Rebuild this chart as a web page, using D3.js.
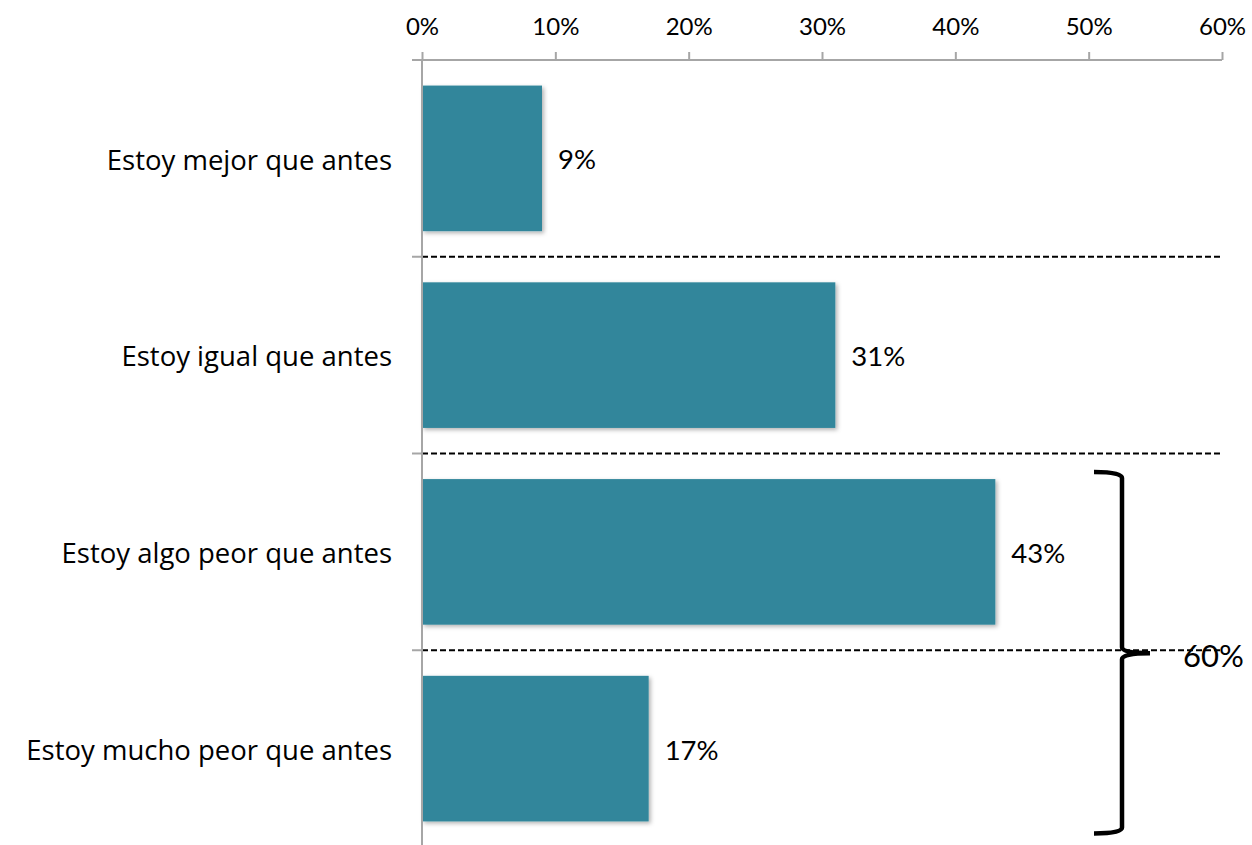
<!DOCTYPE html>
<html>
<head>
<meta charset="utf-8">
<script src="https://cdn.jsdelivr.net/npm/d3@7"></script>
<style>
  html, body { margin: 0; padding: 0; background: #fff; }
  svg { display: block; font-family: Lato, "Open Sans", sans-serif; }
</style>
</head>
<body>
<div id="chart"></div>
<script>
const categories = [
  'Estoy mejor que antes',
  'Estoy igual que antes',
  'Estoy algo peor que antes',
  'Estoy mucho peor que antes'
];
const values = [0.09, 0.31, 0.43, 0.17];
const xTicks = [0, 0.1, 0.2, 0.3, 0.4, 0.5, 0.6];
const bracketCats = ['Estoy algo peor que antes', 'Estoy mucho peor que antes'];

const width = 1252, height = 845;
const plot = { left: 422, right: 1222, top: 60, bottom: 847 };

const svg = d3.select('#chart').append('svg')
  .attr('width', width)
  .attr('height', height);

// bar shadow
const defs = svg.append('defs');
defs.append('filter')
  .attr('id', 'shadow')
  .attr('x', '-5%').attr('y', '-10%').attr('width', '110%').attr('height', '130%')
  .append('feDropShadow')
  .attr('dx', 2).attr('dy', 2).attr('stdDeviation', 2)
  .attr('flood-color', '#000').attr('flood-opacity', 0.3);

const x = d3.scaleLinear().domain([0, 0.6]).range([plot.left, plot.right]);
const y = d3.scaleBand()
  .domain(categories)
  .range([plot.top, plot.bottom])
  .paddingInner(0.26)
  .paddingOuter(0.13);

const axisColor = '#a6a6a6';

// dashed separators between categories
const bounds = d3.range(1, categories.length).map(i => plot.top + i * y.step());
svg.append('g').selectAll('line')
  .data(bounds)
  .join('line')
  .attr('x1', plot.left).attr('x2', plot.right)
  .attr('y1', d => d).attr('y2', d => d)
  .attr('stroke', '#000')
  .attr('stroke-width', 2)
  .attr('stroke-dasharray', '6,3');

// bars
svg.append('g').selectAll('rect')
  .data(values)
  .join('rect')
  .attr('x', x(0))
  .attr('y', (d, i) => y(categories[i]))
  .attr('width', d => x(d) - x(0))
  .attr('height', y.bandwidth())
  .attr('fill', '#31869b')
  .attr('filter', 'url(#shadow)');

// top axis
svg.append('g')
  .attr('transform', `translate(0,${plot.top})`)
  .call(d3.axisTop(x).tickValues(xTicks).tickFormat(d3.format('.0%')).tickSize(8).tickSizeOuter(0).tickPadding(17))
  .call(g => g.select('.domain').remove())
  .call(g => g.selectAll('.tick line').attr('stroke', axisColor).attr('stroke-width', 2))
  .call(g => g.selectAll('.tick text').attr('fill', '#000').style('font-size', '24px').style('font-family', 'Lato, sans-serif'));
svg.append('line')
  .attr('x1', plot.left - 10).attr('x2', plot.right)
  .attr('y1', plot.top).attr('y2', plot.top)
  .attr('stroke', axisColor).attr('stroke-width', 2);

// left axis with ticks at category boundaries
svg.append('line')
  .attr('x1', plot.left).attr('x2', plot.left)
  .attr('y1', plot.top).attr('y2', plot.bottom)
  .attr('stroke', axisColor).attr('stroke-width', 2);
svg.append('g').selectAll('line')
  .data(bounds.concat([plot.bottom]))
  .join('line')
  .attr('x1', plot.left - 10).attr('x2', plot.left)
  .attr('y1', d => d).attr('y2', d => d)
  .attr('stroke', axisColor).attr('stroke-width', 2);

// category labels
svg.append('g').selectAll('text')
  .data(categories)
  .join('text')
  .attr('x', plot.left - 30)
  .attr('y', d => y(d) + y.bandwidth() / 2 + 4)
  .attr('text-anchor', 'end')
  .attr('dominant-baseline', 'middle')
  .style('font-family', '"Open Sans", sans-serif')
  .style('font-size', '27.5px')
  .text(d => d);

// value labels
svg.append('g').selectAll('text')
  .data(values)
  .join('text')
  .attr('x', d => x(d) + 16)
  .attr('y', (d, i) => y(categories[i]) + y.bandwidth() / 2 + 4)
  .attr('dominant-baseline', 'middle')
  .style('font-size', '27.5px')
  .text(d => d3.format('.0%')(d));

// bracket over the "peor" answers
const bTop = y(bracketCats[0]) - 7;
const bBot = y(bracketCats[1]) + y.bandwidth() + 12;
const bMid = (y(bracketCats[0]) + y(bracketCats[1]) + y.bandwidth()) / 2 + 3;
const bx = x(0.525);
const bracket = d3.path();
bracket.moveTo(bx - 28, bTop);
bracket.quadraticCurveTo(bx, bTop, bx, bTop + 6);
bracket.lineTo(bx, bMid - 6);
bracket.quadraticCurveTo(bx, bMid, bx + 28, bMid);
bracket.moveTo(bx + 28, bMid);
bracket.quadraticCurveTo(bx, bMid, bx, bMid + 6);
bracket.lineTo(bx, bBot - 6);
bracket.quadraticCurveTo(bx, bBot, bx - 28, bBot);
svg.append('path')
  .attr('d', bracket.toString())
  .attr('fill', 'none')
  .attr('stroke', '#000')
  .attr('stroke-width', 4.5)
  .attr('stroke-linejoin', 'round');

const bracketSum = d3.sum(bracketCats, c => values[categories.indexOf(c)]);
svg.append('text')
  .attr('x', bx + 61)
  .attr('y', bMid + 6)
  .attr('dominant-baseline', 'middle')
  .style('font-size', '31px')
  .text(d3.format('.0%')(bracketSum));
</script>
</body>
</html>
